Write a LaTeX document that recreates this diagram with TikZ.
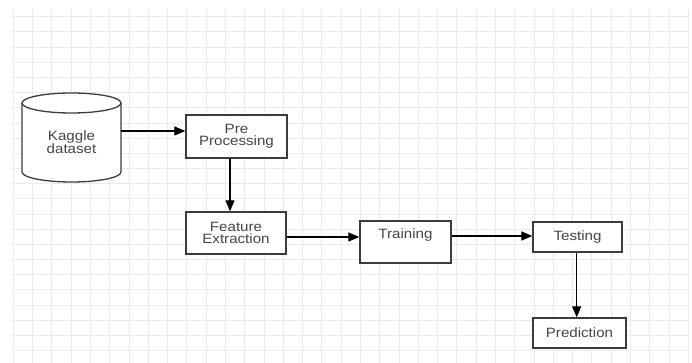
\documentclass[tikz,border=0pt]{standalone}
\usepackage{fontspec}
\setmainfont{Liberation Sans}[FakeStretch=1.12]
\usetikzlibrary{arrows.meta}
\definecolor{gridc}{HTML}{EBEBEB}
\definecolor{boxc}{HTML}{3C3C3C}
\definecolor{txtc}{HTML}{454545}
\tikzset{
  box/.style={draw=boxc, line width=1.3pt, fill=white, inner sep=0pt},
  lbl/.style={text=txtc, font=\fontsize{13.5}{12}\selectfont, align=center, inner sep=0pt},
  arr/.style={draw=black, line width=1.2pt, -{Triangle[length=11pt,width=9pt]}},
  gridline/.style={draw=gridc, line width=0.9pt}
}
\begin{document}
\begin{tikzpicture}[x=1pt,y=1pt]
\useasboundingbox (0,0) rectangle (692,363);
\fill[white] (0,0) rectangle (692,363);
% grid
\foreach \k in {0,...,35} {
  \draw[gridline] ({13.3+19.286*\k},0) -- ({13.3+19.286*\k},354);
}
\foreach \k in {0,...,22} {
  \draw[gridline] (11.5,{346.3-15.18*\k}) -- (688.5,{346.3-15.18*\k});
}
% cylinder
\draw[box] (22,260) -- (22,191)
  arc[start angle=180, end angle=360, x radius=49.5, y radius=10]
  -- (121,260)
  arc[start angle=0, end angle=180, x radius=49.5, y radius=10] -- cycle;
\draw[box, fill=none] (22,260) arc[start angle=180, end angle=360, x radius=49.5, y radius=10];
\node[minimum width=99pt, minimum height=89pt, inner sep=0pt] (kaggle) at (71.5,225.5) {};
\node[lbl] (kaggletext) at (71.5,221) {Kaggle\\dataset};
% boxes
\node[box, lbl, draw=boxc, minimum width=101pt, minimum height=43pt] (pre) at (236.5,226.5) {Pre\\Processing};
\node[box, lbl, draw=boxc, minimum width=100pt, minimum height=42pt] (feature) at (236,130) {Feature\\Extraction};
\node[box, minimum width=91pt, minimum height=42pt] (training) at (405.5,121) {};
\node[lbl] (trainingtext) at ([yshift=7pt]training.center) {Training};
\node[box, lbl, draw=boxc, minimum width=89pt, minimum height=30pt] (testing) at (577.5,126) {Testing};
\node[box, lbl, draw=boxc, minimum width=93pt, minimum height=30pt] (prediction) at (579.5,30) {Prediction};
% connectors
\draw[arr] ([yshift=6.5pt]kaggle.east) -- ([yshift=5.5pt]pre.west);
\draw[arr] ([xshift=-6.5pt]pre.south) -- ([xshift=-6pt]feature.north);
\draw[arr] ([yshift=-4pt]feature.east) -- ([yshift=5pt]training.west);
\draw[arr] ([yshift=6pt]training.east) -- ([yshift=1pt]testing.west);
\draw[arr] ([xshift=-0.8pt]testing.south) -- ([xshift=-2.8pt]prediction.north);
\end{tikzpicture}
\end{document}
